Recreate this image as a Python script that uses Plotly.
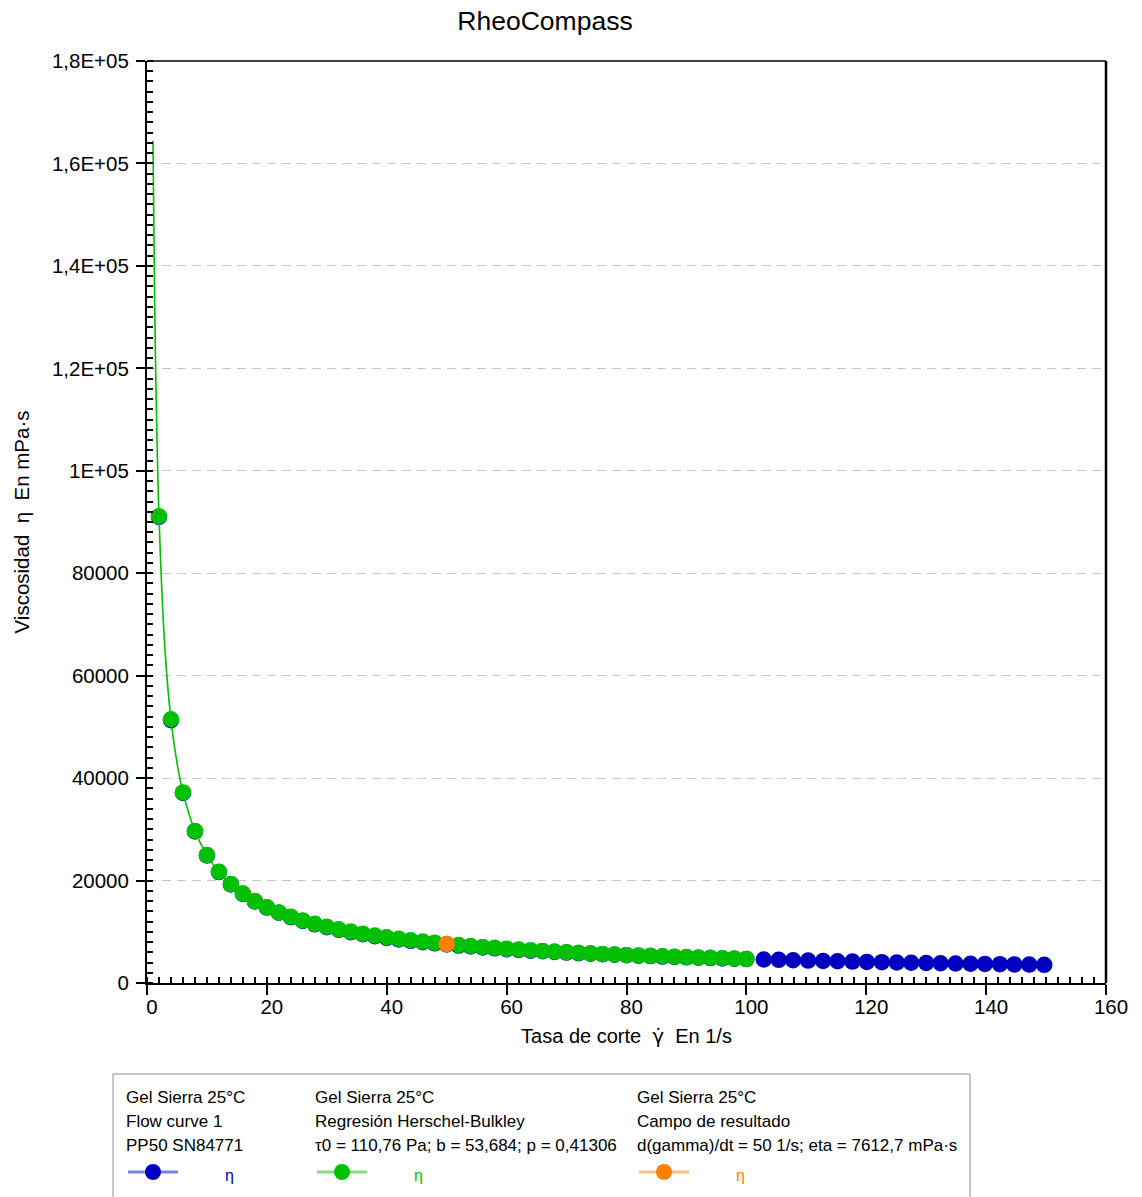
import plotly.graph_objects as go

# ---------------- data ----------------
shear_rate = [2, 4, 6, 8, 10, 12, 14, 16, 18, 20, 22, 24, 26, 28, 30, 32, 34, 36, 38, 40,
              42, 44, 46, 48, 50, 52, 54, 56, 58, 60, 62, 64, 66, 68, 70, 72, 74, 76, 78, 80,
              82, 84, 86, 88, 90, 92, 94, 96, 98, 100]
eta_fit = [91120, 51485, 37214, 29686, 24973, 21716, 19318, 17469, 15995, 14790,
           13783, 12928, 12192, 11550, 10985, 10483, 10034, 9629, 9263, 8929,
           8623, 8342, 8082, 7842, 7619, 7411, 7216, 7034, 6863, 6701,
           6549, 6405, 6269, 6140, 6017, 5901, 5789, 5683, 5582, 5485,
           5393, 5303, 5218, 5136, 5058, 4982, 4909, 4838, 4771, 4705]
eta_flow_low = [91000, 51300, 37100, 29600, 24900, 21650, 19250, 17400, 15920, 14720,
                13710, 12850, 12110, 11460, 10890, 10380, 9930, 9520, 9150, 8820,
                8510, 8230, 7970, 7740, 7520, 7310, 7120, 6940, 6770, 6610,
                6460, 6320, 6190, 6060, 5940, 5830, 5720, 5620, 5520, 5420,
                5330, 5250, 5160, 5080, 5010, 4930, 4860, 4800, 4730, 4670]
shear_rate_high = [102.9, 105.4, 107.8, 110.3, 112.8, 115.2, 117.7, 120.1, 122.6, 125.1,
                   127.5, 130.0, 132.4, 134.9, 137.4, 139.8, 142.3, 144.7, 147.2, 149.7]
eta_flow_high = [4590, 4520, 4440, 4370, 4300, 4240, 4180, 4120, 4060, 4010,
                 3950, 3900, 3860, 3810, 3760, 3720, 3680, 3630, 3590, 3550]
line_x = [1, 1.25, 1.5, 2, 3, 4, 5, 6, 8, 10, 12, 14, 16, 18, 20, 22, 24, 26, 28, 30, 32, 34,
          36, 38, 40, 42, 44, 46, 48, 50, 52, 54, 56, 58, 60, 62, 64, 66, 68, 70, 72,
          74, 76, 78, 80, 82, 84, 86, 88, 90, 92, 94, 96, 98, 100]
line_eta = [164444, 135700, 116156, 91120, 65090, 51485, 43026, 37214, 29686, 24973,
            21716, 19318, 17469, 15995, 14790, 13783, 12928, 12192, 11550, 10985,
            10483, 10034, 9629, 9263, 8929, 8623, 8342, 8082, 7842, 7619, 7411, 7216,
            7034, 6863, 6701, 6549, 6405, 6269, 6140, 6017, 5901, 5789, 5683, 5582,
            5485, 5393, 5303, 5218, 5136, 5058, 4982, 4909, 4838, 4771, 4705]
result_x = [50]
result_eta = [7612.7]

x_tickvals = [0, 20, 40, 60, 80, 100, 120, 140, 160]
y_tickvals = [0, 20000, 40000, 60000, 80000, 100000, 120000, 140000, 160000, 180000]
y_ticktext = ["0", "20000", "40000", "60000", "80000", "1E+05", "1,2E+05", "1,4E+05",
              "1,6E+05", "1,8E+05"]

legend_col1 = ["Gel Sierra 25°C", "Flow curve 1", "PP50 SN84771"]
legend_col2 = ["Gel Sierra 25°C", "Regresión Herschel-Bulkley",
               "τ0 = 110,76 Pa; b = 53,684; p = 0,41306"]
legend_col3 = ["Gel Sierra 25°C", "Campo de resultado",
               "d(gamma)/dt = 50 1/s; eta = 7612,7 mPa·s"]

BLUE = "#0000c0"
GREEN = "#00c000"
ORANGE = "#ff8000"
FONT = "Liberation Sans, Arial, sans-serif"

# ---------------- geometry helpers ----------------
W, H = 1142, 1197
L, R, T, B = 147, 1106, 61, 983


def px(x):
    return (x - L) / (R - L)


def py(y):
    return (B - y) / (B - T)


fig = go.Figure()

fig.add_trace(go.Scatter(x=shear_rate + shear_rate_high, y=eta_flow_low + eta_flow_high,
                         mode="markers", marker=dict(color=BLUE, size=16.5),
                         showlegend=False, hoverinfo="x+y"))
fig.add_trace(go.Scatter(x=line_x, y=line_eta, mode="lines",
                         line=dict(color=GREEN, width=1.6, shape="spline"),
                         showlegend=False, hoverinfo="skip"))
fig.add_trace(go.Scatter(x=shear_rate, y=eta_fit, mode="markers",
                         marker=dict(color=GREEN, size=16.5),
                         showlegend=False, hoverinfo="x+y"))
fig.add_trace(go.Scatter(x=result_x, y=result_eta, mode="markers",
                         marker=dict(color=ORANGE, size=16.5),
                         showlegend=False, hoverinfo="x+y"))
# invisible trace to activate overlay axes (inner part of major ticks)
fig.add_trace(go.Scatter(x=[None], y=[None], xaxis="x2", yaxis="y2",
                         showlegend=False, hoverinfo="skip"))

tickfont = dict(family=FONT, size=20.5, color="#000000")

fig.update_layout(
    width=W, height=H, autosize=False,
    margin=dict(l=L, r=W - R, t=T, b=H - B),
    paper_bgcolor="white", plot_bgcolor="white",
    title=dict(text="RheoCompass", x=545 / W, xref="container", xanchor="center",
               y=1 - 21 / H, yref="container", yanchor="middle",
               font=dict(family=FONT, size=26.5, color="#000000")),
    xaxis=dict(range=[0, 160], tickvals=x_tickvals, ticks="outside", ticklen=10,
               tickwidth=2, tickcolor="black", showline=True, linecolor="black",
               linewidth=2, showgrid=False, zeroline=False, tickfont=tickfont,
               ticklabelstandoff=-6, ticklabelshift=5,
               minor=dict(dtick=2, ticks="inside", ticklen=6, tickwidth=2,
                          tickcolor="black", showgrid=False),
               title=dict(text="Tasa de corte  <span style=\"font-family:'DejaVu Sans'\">γ̇</span>  En 1/s",
                          standoff=12,
                          font=dict(family=FONT, size=20, color="#000000"))),
    yaxis=dict(range=[0, 180000], tickvals=y_tickvals, ticktext=y_ticktext,
               ticks="outside", ticklen=9, tickwidth=2, tickcolor="black",
               showline=True, linecolor="black", linewidth=2,
               showgrid=True, gridcolor="#c8c8c8", gridwidth=1.3, griddash="9px,6px",
               zeroline=False, tickfont=tickfont, ticklabelstandoff=3,
               minor=dict(dtick=2000, ticks="inside", ticklen=6, tickwidth=2,
                          tickcolor="black", showgrid=False),
               title=dict(text="Viscosidad  η  En mPa·s", standoff=17,
                          font=dict(family=FONT, size=20.5, color="#000000"))),
    xaxis2=dict(range=[0, 160], overlaying="x", anchor="y2", tickvals=x_tickvals,
                ticks="inside", ticklen=6, tickwidth=2, tickcolor="black",
                showticklabels=False, showline=False, showgrid=False, zeroline=False),
    yaxis2=dict(range=[0, 180000], overlaying="y", anchor="x2", tickvals=y_tickvals,
                ticks="inside", ticklen=6, tickwidth=2, tickcolor="black",
                showticklabels=False, showline=False, showgrid=False, zeroline=False),
)

shapes = []
# top border (thin) and right border (thick)
shapes.append(dict(type="line", xref="paper", yref="paper", x0=0, x1=1, y0=1, y1=1,
                   line=dict(color="black", width=1.3)))
shapes.append(dict(type="line", xref="paper", yref="paper", x0=1, x1=1, y0=0, y1=1,
                   line=dict(color="black", width=2.5)))
# legend box
shapes.append(dict(type="rect", xref="paper", yref="paper", x0=px(113), x1=px(970),
                   y0=py(1205), y1=py(1074), line=dict(color="#8c8c8c", width=1),
                   fillcolor="white", layer="below"))

annotations = []
cols = [(124, legend_col1, BLUE, "rgba(0,0,192,0.5)", 229),
        (313, legend_col2, GREEN, "rgba(0,192,0,0.5)", 418),
        (635, legend_col3, ORANGE, "rgba(255,128,0,0.5)", 740)]
for x0, lines, col, light, eta_x in cols:
    for i, txt in enumerate(lines):
        annotations.append(dict(text=txt, xref="paper", yref="paper", x=px(x0),
                                y=py(1097 + 24 * i), xanchor="left", yanchor="middle",
                                showarrow=False,
                                font=dict(family=FONT, size=17, color="#000000")))
    mx = x0 + 29
    shapes.append(dict(type="line", xref="paper", yref="paper", x0=px(mx - 25),
                       x1=px(mx + 25), y0=py(1172), y1=py(1172),
                       line=dict(color=light, width=3)))
    shapes.append(dict(type="circle", xref="paper", yref="paper", xsizemode="pixel",
                       ysizemode="pixel", xanchor=px(mx), yanchor=py(1172),
                       x0=-8, x1=8, y0=-8, y1=8, fillcolor=col, line=dict(width=0)))
    annotations.append(dict(text="η", xref="paper", yref="paper", x=px(eta_x),
                            y=py(1175), xanchor="center", yanchor="middle",
                            showarrow=False, font=dict(family=FONT, size=16, color=col)))

fig.update_layout(shapes=shapes, annotations=annotations)

fig.write_html("out.html")
